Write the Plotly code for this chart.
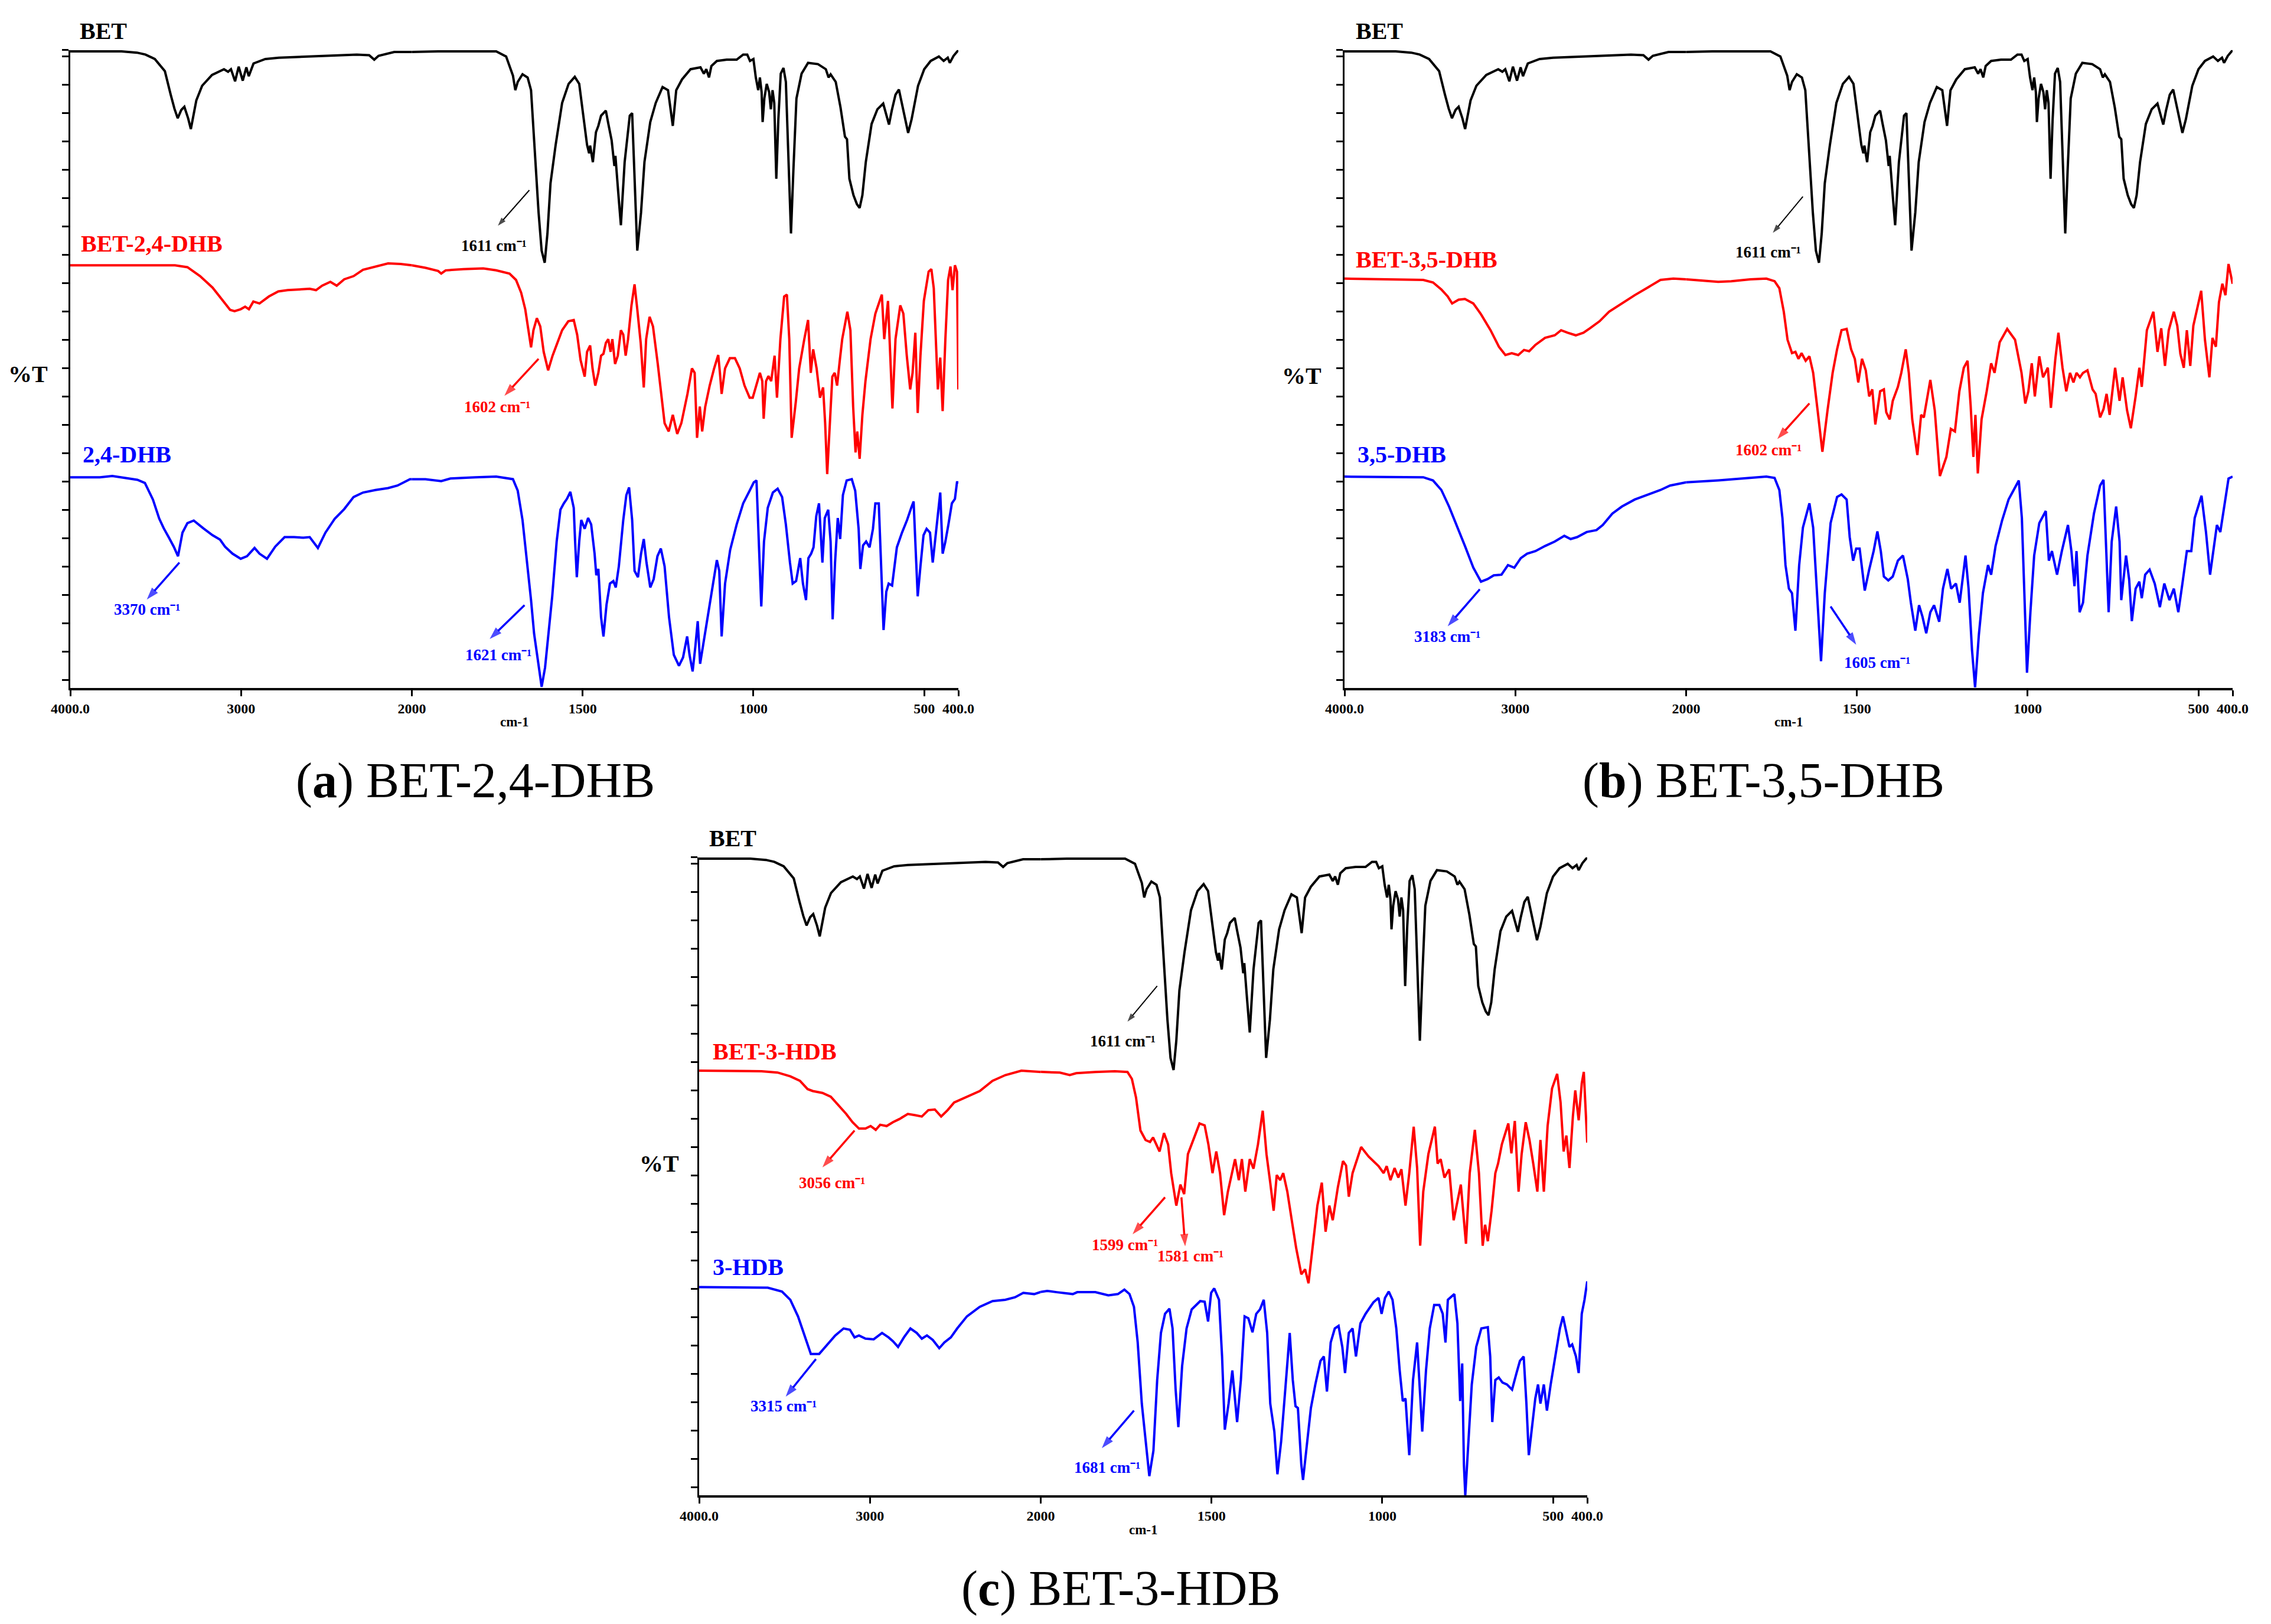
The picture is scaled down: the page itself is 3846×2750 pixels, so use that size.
import plotly.graph_objects as go

W, H = 3846, 2750
OFF = 8                      # default page (body) margin around the figure div
FW, FH = W - 2 * OFF, H - 2 * OFF

# ---------------- data (wavenumber cm-1, relative %T in panel units) ----------------
bet = [(4000,100),(3700,100),(3609,99.8),(3560,99.5),(3505,98.8),(3446,96.9),(3412,93.2),(3390,91),(3371,89.5),
       (3350,90.8),(3332,91.3),(3310,89.5),(3294,87.8),(3275,90.5),(3262,92.3),(3228,94.6),(3170,96.3),(3100,97.2),
       (3076,96.8),(3059,97.2),(3035,95.3),(3014,97.6),(2990,95.4),(2969,97.5),(2955,96.1),(2927,98.1),(2858,98.8),
       (2779,99.0),(2685,99.1),(2506,99.3),(2323,99.5),(2250,99.4),(2220,98.7),(2195,99.3),(2103,99.9),(2000,99.9),
       (1923,100),(1849,100),(1753,100),(1724,99.2),(1704,96.2),(1697,93.9),(1690,95.2),(1676,96.4),(1661,95.9),
       (1651,93.9),(1642,86),(1629,74.7),(1620,68.7),(1611,66.8),(1603,71.4),(1594,79.3),(1579,85.3),(1560,91.9),
       (1541,94.9),(1523,96.0),(1510,94.9),(1497,89.3),(1487,85.3),(1481,84),(1478,85.2),(1470,82.6),(1461,87.3),
       (1454,88.3),(1446,89.9),(1439,90.3),(1432,90.7),(1425,88.7),(1415,86),(1407,82),(1404,83.6),(1396,78),
       (1388,72.7),(1377,82.6),(1362,89.9),(1355,90.3),(1348,79.3),(1340,68.7),(1329,74.7),(1319,82.6),(1302,88.9),
       (1286,91.9),(1266,94.4),(1250,93.9),(1242,90.7),(1236,88.3),(1226,93.9),(1209,95.6),(1184,97.2),(1155,97.5),
       (1145,96.5),(1138,97.2),(1130,95.9),(1123,97.7),(1107,98.5),(1078,98.7),(1049,98.7),(1030,99.5),(1018,99.5),
       (1010,98.5),(1000,98.8),(993,95.9),(986,93.9),(981,95.9),(976,93.6),(973,88.9),(968,92.6),(961,94.9),
       (954,93.6),(949,90.9),(944,93.9),(939,91.9),(933,80),(927,89.3),(920,96.5),(912,97.4),(905,95.2),(897,82.6),
       (890,71.4),(883,81.3),(874,92.6),(859,96.5),(840,98.2),(811,98),(788,97.2),(780,95.9),(774,96.4),(759,95.2),
       (745,91.2),(732,86.6),(726,86.2),(719,80),(707,77.4),(697,76),(689,75.4),(681,77.4),(671,82.6),(654,88.6),
       (637,90.9),(620,91.8),(610,89.9),(603,88.5),(595,90.7),(584,93.2),(574,94),(561,90.9),(547,87.2),(537,89.3),
       (518,94.6),(500,97.2),(481,98.5),(457,99.2),(443,98.5),(431,99),(425,98.2),(414,99.3),(400,100.2)]

bet_24dhb = [(4000,66.4),(3387,66.4),(3314,66.1),(3240,64.7),(3167,62.9),(3112,61),(3064,59.4),(3038,59.2),(3002,59.5),
       (2976,59.9),(2954,59.5),(2928,60.7),(2892,60.4),(2837,61.5),(2782,62.3),(2727,62.5),(2653,62.6),(2598,62.7),
       (2561,62.5),(2525,63.2),(2477,63.8),(2440,63.2),(2396,64.2),(2341,64.7),(2286,65.7),(2213,66.2),(2139,66.7),
       (2066,66.6),(2000,66.4),(1960,66),(1923,65.5),(1914,65.1),(1901,65.6),(1849,65.8),(1791,65.9),(1753,65.6),
       (1714,65.1),(1695,64.1),(1680,62.1),(1668,59.5),(1659,56.2),(1651,53.5),(1644,56.2),(1634,58.1),(1624,56.8),
       (1614,52.8),(1601,49.9),(1588,52.2),(1574,54.2),(1560,56.2),(1542,57.6),(1526,57.8),(1516,55.5),(1506,51.5),
       (1494,48.9),(1487,52.8),(1478,53.8),(1471,50.2),(1463,47.5),(1454,49.5),(1446,52.2),(1439,52.5),(1432,54.2),
       (1425,54.8),(1418,52.8),(1413,54.8),(1405,50.9),(1397,52.2),(1388,56.2),(1381,55.5),(1374,52.2),(1367,54.8),
       (1357,60.1),(1348,63.4),(1340,59.5),(1330,54.2),(1321,47.2),(1314,54.8),(1304,58.3),(1294,56.8),(1280,50.9),
       (1270,46.2),(1260,41.6),(1248,40.3),(1236,42.9),(1223,39.9),(1211,41.6),(1193,46.2),(1180,50.2),(1172,49.5),
       (1165,39.3),(1157,44.2),(1150,40.3),(1141,44.2),(1128,47.5),(1115,50.2),(1103,52.3),(1098,49.5),(1093,46.2),
       (1083,50.2),(1069,51.8),(1054,51.8),(1040,50.2),(1026,47.5),(1011,45.6),(1002,45.6),(992,47.5),(981,49.5),
       (974,48.2),(970,42.3),(963,48.2),(956,49),(948,48.2),(938,52.2),(931,45.6),(921,54.8),(910,61.5),(902,61.8),
       (895,54.8),(888,39.3),(876,44.9),(866,50.2),(851,54.8),(840,57.8),(832,49.5),(825,53.2),(815,50.2),(805,45.6),
       (796,47.2),(790,41.6),(784,33.6),(776,41.6),(769,48.9),(762,49.5),(755,47.5),(747,51.5),(740,54.8),(725,59.1),
       (716,56.2),(708,44.2),(701,37),(696,40.3),(689,36),(681,42.9),(672,48.2),(657,54.8),(643,58.8),(624,61.8),
       (617,54.8),(606,60.8),(599,50.9),(593,43.9),(584,54.8),(570,60.1),(561,58.8),(551,52.2),(541,46.9),(534,49.5),
       (526,55.8),(519,43.2),(511,52.2),(501,60.8),(487,65.4),(479,65.8),(472,62.8),(465,52.2),(460,46.9),(453,51.9),
       (446,43.5),(438,54.8),(430,64.1),(423,66.2),(417,62.5),(410,66.4),(404,65.4),(400,46.9)]

dhb_24 = [(4000,33.1),(3901,33.1),(3827,33.1),(3754,33.3),(3681,33),(3607,32.7),(3563,32.2),(3516,29.6),(3479,26.6),
       (3453,25.1),(3424,23.7),(3394,22.2),(3369,20.7),(3343,24.4),(3314,25.9),(3277,26.3),(3222,25.1),(3167,24),
       (3123,23.3),(3094,22.2),(3050,21.1),(3002,20.3),(2965,20.7),(2921,22),(2892,21.1),(2848,20.3),(2800,22.2),
       (2745,23.7),(2690,23.7),(2635,23.6),(2598,23.7),(2550,22),(2506,24.4),(2451,26.6),(2396,28.1),(2341,30),
       (2286,30.7),(2213,31.1),(2139,31.4),(2084,31.8),(2011,32.8),(2000,32.8),(1960,32.8),(1914,32.5),(1887,32.9),
       (1814,33.1),(1753,33.2),(1704,32.8),(1690,31),(1676,26.4),(1664,20.4),(1651,13.8),(1642,8.5),(1629,3.8),
       (1620,0.2),(1610,3.2),(1600,8.5),(1589,14.4),(1576,23),(1565,28),(1555,29),(1546,29.7),(1536,30.8),(1526,28.3),
       (1522,23),(1517,17.4),(1510,23),(1504,26.4),(1494,25),(1484,26.7),(1475,25.7),(1465,21.1),(1460,17.7),
       (1454,18.7),(1446,11.1),(1439,8.1),(1430,13.1),(1420,16.4),(1410,16.8),(1403,15.8),(1394,19.1),(1381,26.4),
       (1372,30.3),(1364,31.5),(1355,26.4),(1348,18.4),(1338,17.4),(1329,21.1),(1321,23.4),(1313,19.7),(1302,15.8),
       (1292,17.1),(1281,20.7),(1271,21.9),(1260,19.1),(1247,11.1),(1233,5.2),(1218,3.5),(1206,4.8),(1194,8.1),
       (1187,5.2),(1178,2.6),(1170,6.5),(1163,10.5),(1156,3.8),(1146,7.1),(1132,11.8),(1117,16.4),(1107,20.1),
       (1100,18.4),(1093,8.1),(1083,16.4),(1068,21.7),(1049,25.7),(1030,29),(1011,31),(999,32.3),(991,32.6),(985,23),
       (977,12.8),(969,23),(958,28.3),(943,30.7),(929,31.3),(916,30),(905,25.7),(893,19.7),(885,16.4),(875,16.8),
       (863,20.4),(855,16.4),(846,13.8),(839,20.4),(831,21.1),(824,22.1),(816,27),(808,29),(803,24.4),(798,19.7),
       (791,26.7),(781,28),(774,23),(768,10.8),(761,19.7),(753,26.7),(746,23.4),(738,30.3),(727,32.6),(712,32.8),
       (702,31),(692,25),(687,18.7),(679,22.4),(670,23),(660,22.1),(650,25),(643,29),(633,29),(626,19.7),(619,9.1),
       (611,15.1),(604,16.4),(594,16.1),(580,22.1),(565,24.4),(550,26.4),(538,28.3),(531,29.3),(526,23),(519,14.4),
       (511,19.1),(502,24),(493,25),(483,24.4),(475,19.7),(468,23),(461,26.4),(453,30.7),(446,21.1),(438,23),
       (429,25.7),(419,29),(410,29.7),(404,32.3),(400,32.3)]

bet_35dhb = [(4000,64.3),(3539,64.1),(3482,63.7),(3433,62.6),(3396,61.5),(3370,60.4),(3332,61),(3295,61.1),(3246,60.4),
       (3201,58.7),(3145,56.2),(3096,53.6),(3058,52.3),(3021,52.6),(2983,52.3),(2949,53.1),(2919,52.9),(2882,53.9),
       (2826,55),(2769,55.4),(2732,56.2),(2694,55.8),(2646,55.4),(2601,55.8),(2563,56.5),(2507,57.6),(2451,59.1),
       (2376,60.4),(2301,61.7),(2225,62.9),(2150,64.1),(2075,64.3),(2000,64.2),(1925,63.9),(1906,63.8),(1868,63.9),
       (1812,64.2),(1765,64.3),(1741,63.9),(1727,62.8),(1714,59.1),(1703,54.7),(1690,52.6),(1680,52.8),(1671,51.7),
       (1662,52.6),(1650,51.4),(1639,52.1),(1628,49.5),(1615,43.6),(1601,37.1),(1586,43.6),(1571,49.5),(1558,53.2),
       (1545,56.2),(1530,56.4),(1517,53.2),(1506,51.7),(1496,48),(1485,51.7),(1474,49.9),(1464,45.8),(1455,46.9),
       (1446,41.4),(1432,46.6),(1421,46.9),(1414,43.3),(1404,42.2),(1395,45.1),(1380,47.3),(1370,49.5),(1357,53.2),
       (1348,49.5),(1338,42.2),(1323,36.6),(1312,42.9),(1304,42.5),(1285,48.4),(1272,43.6),(1257,33.3),(1238,36.3),
       (1225,40.7),(1213,40.3),(1200,46.6),(1187,50.3),(1176,51.4),(1167,44.4),(1159,36.3),(1153,42.9),(1146,33.7),
       (1135,42.2),(1120,46.6),(1107,51),(1097,49.5),(1082,54.3),(1060,56.4),(1037,54.7),(1018,49.5),(1007,44.7),
       (998,46.6),(988,51),(979,45.8),(966,52.1),(955,48.8),(941,50.3),(932,44),(919,51.7),(910,55.8),(898,50.3),
       (887,46.6),(876,49.5),(866,48),(857,49.5),(847,48.8),(838,49.5),(825,49.9),(810,46.9),(801,46.2),(788,42.5),
       (778,43.8),(769,46.2),(760,42.9),(744,50.3),(731,45.1),(722,48.8),(709,43.6),(698,40.8),(684,45.8),(673,50.3),
       (666,47.3),(651,56.2),(632,59.1),(620,52.8),(609,56.5),(598,50.6),(587,56.2),(572,59.1),(562,56.9),(553,52.5),
       (543,50.3),(534,56.2),(524,50.6),(515,56.9),(492,62.4),(481,54.7),(468,48.8),(459,55),(449,53.6),(440,60.6),
       (430,63.5),(421,61.7),(412,66.6),(400,63.5)]

dhb_35 = [(4000,33.2),(3539,33.1),(3482,32.6),(3433,31.1),(3388,28.5),(3343,25.6),(3295,22.3),(3246,18.9),(3201,16.7),
       (3163,17.1),(3126,17.7),(3081,17.8),(3043,19.3),(3006,18.9),(2968,20.4),(2931,21.1),(2882,21.5),(2826,22.3),
       (2769,23),(2713,23.9),(2676,23.4),(2638,23.7),(2582,24.5),(2525,24.8),(2488,25.6),(2432,27.4),(2376,28.5),
       (2301,29.6),(2225,30.4),(2150,31.1),(2094,31.8),(2000,32.3),(1906,32.6),(1831,32.9),(1765,33.2),(1741,33),
       (1727,31.1),(1718,26.7),(1709,19.3),(1699,15.6),(1690,14.9),(1680,9),(1669,19.3),(1658,25.2),(1639,29),
       (1628,25.2),(1617,15.6),(1605,4.2),(1594,14.9),(1577,25.9),(1558,30),(1545,30.4),(1530,29.6),(1521,23.7),
       (1511,20),(1502,21.9),(1492,21.9),(1477,15.3),(1464,18.6),(1451,21.5),(1440,24.6),(1430,21.5),(1421,17.5),
       (1408,16.9),(1395,17.5),(1380,20),(1365,20.8),(1351,17.1),(1342,13.4),(1329,9),(1318,13),(1308,11.2),
       (1297,8.6),(1285,11.9),(1274,13),(1259,10.4),(1248,15.6),(1235,18.7),(1224,15.6),(1210,16.4),(1199,13.4),
       (1182,20.8),(1173,15.6),(1163,6),(1154,0.1),(1143,8.3),(1131,14.9),(1116,19.3),(1107,17.8),(1094,22.3),
       (1075,26.3),(1056,29.6),(1037,31.5),(1026,32.6),(1017,26.7),(1007,11.9),(1002,2.4),(992,11.9),(981,20.8),
       (966,25.9),(947,27.8),(938,20),(929,21.5),(914,17.8),(900,21.5),(882,25.6),(872,21.5),(863,16),(857,21.5),
       (848,11.9),(838,13.4),(825,20.8),(806,27.4),(788,31.8),(778,32.7),(771,23),(763,11.9),(754,23),(741,28.5),
       (731,23),(726,13.8),(712,20.8),(703,17.1),(695,10.5),(684,15.6),(673,16.7),(666,14.1),(656,17.8),(643,18.6),
       (628,16.4),(613,12.7),(600,16.4),(585,13.8),(572,15.6),(559,11.9),(547,16.4),(534,21.5),(521,21.5),(511,26.7),
       (491,30.2),(478,24.5),(466,17.8),(455,22.3),(446,25.6),(436,24.5),(425,28.1),(412,32.9),(400,33.2)]

bet_3hdb = [(4000,66.7),(3635,66.6),(3541,66.4),(3466,65.8),(3410,65.1),(3365,63.8),(3335,63.5),(3278,63.2),(3229,62.6),
       (3184,61.3),(3139,59.9),(3102,58.6),(3064,57.6),(3026,57.6),(2996,58),(2966,57.4),(2940,58.2),(2902,58),
       (2865,58.6),(2827,59.1),(2778,59.9),(2733,59.7),(2696,59.5),(2658,60.5),(2620,60.6),(2583,59.5),(2545,60.5),
       (2507,61.7),(2432,62.6),(2357,63.5),(2282,65.1),(2207,66),(2113,66.7),(2000,66.5),(1944,66.4),(1915,66),
       (1896,66.3),(1840,66.5),(1783,66.6),(1746,66.5),(1733,65.4),(1721,62.5),(1708,57.3),(1693,55.8),(1680,55.5),
       (1671,56.2),(1661,55.1),(1652,54),(1639,56.9),(1627,55.1),(1618,50.6),(1610,47.7),(1603,45.5),(1591,48.8),
       (1580,47.3),(1569,53.6),(1554,55.8),(1535,58.4),(1520,58.1),(1509,55.1),(1497,50.6),(1486,54),(1475,50.6),
       (1463,44),(1452,47.7),(1441,50.6),(1431,52.8),(1420,49.5),(1411,52.8),(1401,47.7),(1388,52.8),(1377,51.3),
       (1364,55.1),(1350,60.4),(1339,53.6),(1328,49.1),(1318,44.7),(1309,50.3),(1299,49.5),(1290,50.6),(1278,47.7),
       (1265,43.2),(1252,38.8),(1237,34.7),(1226,35.5),(1216,33.3),(1203,39.5),(1190,45.5),(1177,49.1),(1166,41.4),
       (1155,45.5),(1145,43.2),(1130,48.4),(1115,52.5),(1106,51.8),(1098,46.9),(1087,50.6),(1062,54.7),(1040,53.2),
       (1011,51.7),(996,50.6),(987,51.7),(976,49.5),(964,51.4),(953,49.9),(944,51.2),(932,45.5),(921,50.6),(908,57.9),
       (898,51.4),(889,39.2),(880,47.7),(865,53.6),(846,57.9),(838,52.1),(829,52.8),(818,49.9),(804,51.2),(791,43.2),
       (780,46.2),(770,48.8),(755,39.5),(744,50.6),(729,57.4),(717,50.6),(706,39.2),(699,42.5),(691,39.9),(680,44.7),
       (669,50.6),(661,52.1),(650,55.1),(631,58.4),(622,53.7),(612,58.8),(601,47.7),(592,53.6),(580,58.6),(569,55.8),
       (558,52.1),(546,47.7),(537,55.8),(527,47.7),(516,58),(503,63.9),(488,66.2),(478,61.7),(469,54),(461,56.5),
       (452,51.4),(442,59.5),(435,63.6),(425,58.9),(416,64.7),(410,66.5),(400,55.4)]

hdb_3 = [(4000,32.7),(3598,32.6),(3515,32),(3466,30.7),(3421,28.1),(3384,25.1),(3346,22.2),(3297,22.2),(3260,23.3),
       (3203,25.1),(3154,26.2),(3117,26),(3090,24.8),(3064,25.1),(3026,24.6),(2978,24.5),(2929,25.5),(2891,24.8),
       (2865,24.2),(2835,23.3),(2801,24.8),(2763,26.2),(2726,25.5),(2696,24.6),(2666,25.1),(2632,24.4),(2594,23.1),
       (2564,24),(2526,24.8),(2489,26.2),(2432,28.1),(2357,29.6),(2282,30.5),(2207,30.7),(2150,31.1),(2102,31.8),
       (2038,31.6),(2000,31.9),(1981,32.1),(1953,31.9),(1906,31.6),(1893,31.9),(1840,31.9),(1802,31.4),(1774,31.6),
       (1755,32.3),(1740,31.6),(1727,29.6),(1716,24),(1704,14.4),(1693,8.5),(1682,3),(1670,7),(1659,18.1),(1648,25.5),
       (1636,28.5),(1623,29.3),(1614,26.2),(1605,16.6),(1597,10.7),(1586,20.3),(1573,26.2),(1558,29.2),(1533,30.5),
       (1520,30.4),(1510,27.3),(1501,31.8),(1492,32.5),(1478,30.7),(1469,21.8),(1461,10.3),(1450,14.4),(1439,19.6),
       (1431,14.4),(1425,11.5),(1414,18.1),(1403,28.1),(1392,27.8),(1380,25.6),(1369,28.5),(1358,29.2),(1347,30.7),
       (1337,25.5),(1328,14.4),(1316,10),(1307,3.3),(1296,8.5),(1284,16.6),(1271,25.5),(1262,18.1),(1254,14),
       (1247,13.7),(1237,4.8),(1232,2.4),(1222,7),(1209,13.7),(1196,17.4),(1181,21.1),(1171,21.8),(1162,16.3),
       (1151,24),(1139,26.2),(1128,26.6),(1117,23.3),(1109,19.2),(1098,25.5),(1087,26.2),(1077,21.8),(1064,27),
       (1049,28.5),(1026,30.3),(1011,31),(1002,28.5),(992,31),(981,32),(970,30.7),(959,26.2),(949,19.6),(940,14.8),
       (932,15.2),(921,6.3),(910,18.1),(898,24),(891,18.1),(883,10),(872,19.6),(861,26.2),(848,29.9),(833,29.9),
       (823,28.5),(815,24),(808,30.7),(789,31.6),(780,27),(772,14.8),(766,20.7),(761,4.8),(757,0),(748,8.5),(738,17.4),
       (725,23.3),(710,26.2),(691,26.4),(684,21.8),(678,11.5),(669,18.1),(659,18.5),(648,17.7),(635,17.4),(620,16.6),
       (607,19.2),(597,21.1),(586,21.8),(578,14.4),(571,6.3),(561,10.7),(552,15.2),(544,17.4),(537,14.4),(527,17.4),
       (518,13.3),(507,17.4),(494,21.8),(480,26.2),(471,28.1),(461,25.5),(452,23.3),(444,23.7),(433,21.8),(425,19.2),
       (416,28.5),(408,30.7),(400,33.6)]

x_ticks_left = [4000, 3000, 2000]
x_ticklabels_left = ["4000.0", "3000", "2000"]
x_ticks_right = [1500, 1000, 500, 400]
x_ticklabels_right = ["1500", "1000", "500", "400.0"]

BLACK, RED, BLUE = "#000000", "#FF0000", "#0000FF"
FONT = "Liberation Serif"


def fx(px):   # page pixel -> paper fraction (x)
    return (px - OFF) / FW


def fy(py):   # page pixel -> paper fraction (y)
    return 1 - (py - OFF) / FH


# ---------------- panel geometry (page pixels) ----------------
panels = [
    dict(x0=119, x1=1623, yax=1165, ppu=10.78,
         series=[(bet, BLACK, "BET", 3950, 52), (bet_24dhb, RED, "BET-2,4-DHB", 3945, 412),
                 (dhb_24, BLUE, "2,4-DHB", 3935, 770)],
         pct=(47, 633), cm=1222, caption=("a", "BET-2,4-DHB", 805, 1322)),
    dict(x0=2277, x1=3781, yax=1165, ppu=10.78,
         series=[(bet, BLACK, "BET", 3940, 52), (bet_35dhb, RED, "BET-3,5-DHB", 3940, 440),
                 (dhb_35, BLUE, "3,5-DHB", 3932, 770)],
         pct=(2204, 637), cm=1222, caption=("b", "BET-3,5-DHB", 2986, 1322)),
    dict(x0=1184, x1=2688, yax=2532, ppu=10.78,
         series=[(bet, BLACK, "BET", 3947, 1419), (bet_3hdb, RED, "BET-3-HDB", 3929, 1780),
                 (hdb_3, BLUE, "3-HDB", 3929, 2145)],
         pct=(1116, 1970), cm=2590, caption=("c", "BET-3-HDB", 1898, 2690)),
]

# peak annotations: (panel, text, color, head_w, head_u, tail_w, tail_u, text_w, text_u, thin)
peak_notes = [
    (0, "1611 cm⁻¹", BLACK, 1748, 72.6, 1656, 78.2, 1759, 69.5, True),
    (0, "1602 cm⁻¹", RED, 1729, 45.9, 1629, 51.7, 1750, 44.2, False),
    (0, "1621 cm⁻¹", BLUE, 1772, 7.7, 1670, 13.0, 1746, 5.2, False),
    (0, "3370 cm⁻¹", BLUE, 3552, 13.9, 3361, 19.7, 3552, 12.3, False),
    (1, "1611 cm⁻¹", BLACK, 1746, 71.5, 1658, 77.2, 1759, 68.5, True),
    (1, "1602 cm⁻¹", RED, 1733, 39.1, 1639, 44.7, 1759, 37.4, False),
    (1, "3183 cm⁻¹", BLUE, 3396, 9.7, 3208, 15.5, 3400, 8.1, False),
    (1, "1605 cm⁻¹", BLUE, 1502, 6.8, 1577, 12.8, 1440, 4.0, False),
    (2, "1611 cm⁻¹", BLACK, 1746, 74.4, 1659, 80.0, 1759, 71.3, True),
    (2, "3056 cm⁻¹", RED, 3278, 51.5, 3090, 57.3, 3222, 49.1, False),
    (2, "1599 cm⁻¹", RED, 1731, 41.0, 1636, 46.8, 1754, 39.3, False),
    (2, "1581 cm⁻¹", RED, 1577, 39.1, 1588, 46.8, 1562, 37.6, False),
    (2, "3315 cm⁻¹", BLUE, 3493, 15.5, 3316, 21.4, 3504, 14.0, False),
    (2, "1681 cm⁻¹", BLUE, 1821, 7.4, 1727, 13.3, 1806, 4.4, False),
]

SPLIT = 1000.0 / 2600.0   # 4000-2000 drawn at half the scale of 2000-400
YTOP = 100.2

fig = go.Figure()
layout = {}
annotations = []


def xa(i):
    return "x" if i == 1 else f"x{i}"


def ya(i):
    return "y" if i == 1 else f"y{i}"


def bold(size, color=BLACK):
    return dict(family=FONT, size=size, color=color, weight="bold")


for p, cfg in enumerate(panels):
    il, ir, iy = 2 * p + 1, 2 * p + 2, p + 1
    x0, x1 = fx(cfg["x0"]), fx(cfg["x1"])
    xm = x0 + SPLIT * (x1 - x0)
    ybot = fy(cfg["yax"])
    ytop = fy(cfg["yax"] - YTOP * cfg["ppu"])
    common_x = dict(showgrid=False, zeroline=False, showline=True, linewidth=4, linecolor=BLACK,
                    ticks="outside", ticklen=10, tickwidth=3, tickcolor=BLACK,
                    tickfont=bold(24), anchor=ya(iy), tickmode="array", automargin=False)
    layout["xaxis" if il == 1 else f"xaxis{il}"] = dict(common_x, domain=[x0, xm], range=[4000, 2000],
                                                        tickvals=x_ticks_left, ticktext=x_ticklabels_left)
    layout[f"xaxis{ir}"] = dict(common_x, domain=[xm, x1], range=[2000, 400],
                                tickvals=x_ticks_right, ticktext=x_ticklabels_right)
    step = 48 / cfg["ppu"]
    ytv = [YTOP] + [14 / cfg["ppu"] + step * k for k in range(23)]
    layout["yaxis" if iy == 1 else f"yaxis{iy}"] = dict(
        domain=[ybot, ytop], range=[0, YTOP], anchor=xa(il), showgrid=False, zeroline=False,
        showline=True, linewidth=3, linecolor=BLACK, ticks="outside", ticklen=11, tickwidth=3,
        tickcolor=BLACK, tickmode="array", tickvals=ytv, showticklabels=False, automargin=False)

    for data, color, name, lw, lpy in cfg["series"]:
        wn = [d[0] for d in data]
        tr = [d[1] for d in data]
        for ix in (il, ir):
            fig.add_trace(go.Scatter(x=wn, y=tr, mode="lines", xaxis=xa(ix), yaxis=ya(iy),
                                     line=dict(color=color, width=4), hoverinfo="skip", showlegend=False))
        annotations.append(dict(text=name, x=lw, y=fy(lpy), xref=xa(il), yref="paper",
                                xanchor="left", yanchor="middle", showarrow=False, font=bold(40, color)))

    px, py = cfg["pct"]
    annotations.append(dict(text="%T", x=fx(px), y=fy(py), xref="paper", yref="paper",
                            xanchor="center", yanchor="middle", showarrow=False, font=bold(40)))
    annotations.append(dict(text="cm-1", x=1700, y=fy(cfg["cm"]), xref=xa(ir), yref="paper",
                            xanchor="center", yanchor="middle", showarrow=False, font=bold(23)))
    letter, title, cx, cy = cfg["caption"]
    annotations.append(dict(text=f"(<b>{letter}</b>) {title}", x=fx(cx), y=fy(cy),
                            xref="paper", yref="paper", xanchor="center", yanchor="middle",
                            showarrow=False, font=dict(family=FONT, size=84, color=BLACK)))

for p, text, color, hw, hu, tw, tu, txw, txu, thin in peak_notes:
    il, ir, iy = 2 * p + 1, 2 * p + 2, p + 1
    xr = xa(ir) if hw <= 2000 else xa(il)
    fig.add_trace(go.Scatter(
        x=[tw, hw], y=[tu, hu], mode="lines+markers", xaxis=xr, yaxis=ya(iy),
        line=dict(color=color, width=2 if thin else 3.5),
        marker=dict(symbol=["circle", "arrow"], size=[0, 15 if thin else 22], angleref="previous",
                    color=color, line=dict(width=0)),
        hoverinfo="skip", showlegend=False, cliponaxis=False))
    annotations.append(dict(text=text, x=txw, y=txu, xref=xr, yref=ya(iy), xanchor="center",
                            yanchor="middle", showarrow=False, font=bold(27, color)))

layout.update(width=FW, height=FH, margin=dict(l=0, r=0, t=0, b=0, pad=0, autoexpand=False),
              paper_bgcolor="white", plot_bgcolor="white", showlegend=False, hovermode=False,
              annotations=annotations)
fig.update_layout(**layout)
fig.write_html("out.html")
